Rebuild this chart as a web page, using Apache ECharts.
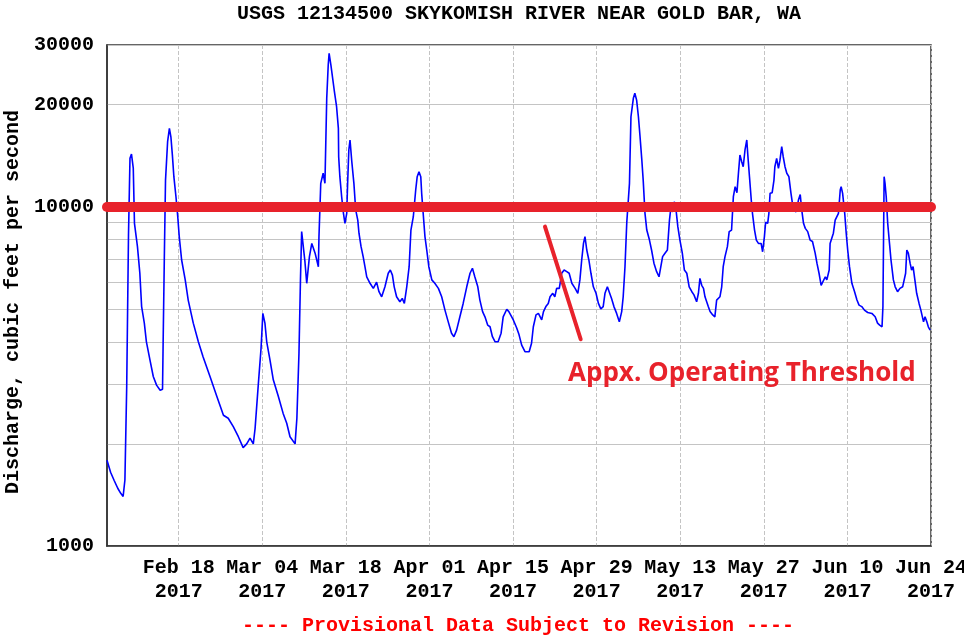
<!DOCTYPE html>
<html><head><meta charset="utf-8">
<script src="https://cdn.jsdelivr.net/npm/echarts@6/dist/echarts.min.js"></script>
<style>html,body{margin:0;padding:0;background:#fff}#c{width:964px;height:635px}</style>
</head><body><div id="c"></div>
<script>
const titleText = 'USGS 12134500 SKYKOMISH RIVER NEAR GOLD BAR, WA';
const yAxisName = 'Discharge, cubic feet per second';
const footerText = '---- Provisional Data Subject to Revision ----';
const annotationText = 'Appx. Operating Threshold';

// x = days since 2017-02-06 00:00
const xMin = 0, xMax = 138;
const xTickDays = [12, 26, 40, 54, 68, 82, 96, 110, 124, 138];
const xTickLabels = ['Feb 18\n2017', 'Mar 04\n2017', 'Mar 18\n2017', 'Apr 01\n2017', 'Apr 15\n2017',
  'Apr 29\n2017', 'May 13\n2017', 'May 27\n2017', 'Jun 10\n2017', 'Jun 24\n2017'];
const yLabelValues = [1000, 10000, 20000, 30000];
const yGridValues = [1000, 2000, 3000, 4000, 5000, 6000, 7000, 8000, 9000, 10000, 20000, 30000];

const thresholdValue = 10000;
const thresholdSpan = [0, 138];
const pointerStart = [73.35, 8740];
const pointerEnd = [79.33, 4070];

const dayOffset = [0,0.6,1.2,1.8,2.3,2.7,3.0,3.3,3.6,3.85,4.1,4.4,4.6,5.1,5.5,5.8,6.25,6.6,7.2,7.75,8.3,8.9,9.3,9.4,9.6,9.8,
10.15,10.45,10.7,10.95,11.2,11.55,11.85,12.1,12.5,13.1,13.6,14.45,15.3,16.1,17.25,18.4,19.5,20.3,21.15,22.0,22.8,23.4,23.95,24.5,24.8,
25.35,25.8,26.1,26.25,26.45,26.75,27.3,27.85,28.7,29.5,30.1,30.65,31.5,31.8,32.15,32.4,32.6,32.9,33.15,33.45,33.9,34.3,34.85,35.4,35.5,
35.8,36.2,36.5,36.8,37.05,37.2,37.5,37.75,38.05,38.45,38.75,38.8,39.0,39.3,39.6,39.85,40.15,40.3,40.5,40.7,41.0,41.35,41.65,42.0,42.2,
42.55,42.9,43.2,43.5,44.05,44.6,45.15,45.55,46.0,46.55,47.1,47.45,47.8,48.1,48.5,49.05,49.45,49.8,50.2,50.6,50.9,51.3,51.7,51.95,52.25,
52.55,52.7,52.95,53.25,53.55,53.9,54.4,54.9,55.5,56.05,56.6,57.15,57.7,58.1,58.55,59.1,59.65,60.25,60.8,61.2,61.6,62.1,62.45,62.9,63.3,
63.75,64.15,64.55,65.0,65.5,66.0,66.35,66.95,67.3,68.05,68.6,69.0,69.45,70.0,70.7,71.1,71.4,71.85,72.25,72.8,73.1,73.5,73.9,74.2,74.65,
75.0,75.3,75.75,76.15,76.55,77.0,77.4,77.85,78.4,78.85,79.2,79.5,79.8,80.05,80.35,80.7,81.05,81.45,81.9,82.3,82.7,83.1,83.4,83.8,84.1,
84.5,84.9,85.35,85.8,86.2,86.45,86.75,87.05,87.5,87.75,88.15,88.4,88.7,89.0,89.25,89.55,89.8,90.1,90.4,90.85,91.2,91.6,92.05,92.45,92.75,
93.05,93.45,93.85,94.2,94.45,94.75,95.0,95.3,95.6,95.95,96.35,96.7,97.1,97.5,97.95,98.3,98.75,99.05,99.3,99.6,99.9,100.15,100.45,100.7,
101.0,101.45,101.8,102.1,102.65,102.95,103.2,103.5,103.9,104.2,104.6,104.9,105.2,105.5,105.75,106.0,106.3,106.55,106.85,107.15,107.3,
107.6,107.9,108.1,108.45,108.75,109.1,109.55,109.8,110.1,110.3,110.65,110.85,111.05,111.4,111.7,111.85,112.15,112.45,112.7,113.0,113.25,
113.55,113.85,114.2,114.55,114.95,115.4,115.8,116.1,116.35,116.65,116.95,117.35,117.75,118.15,118.6,118.9,119.25,119.6,119.9,120.3,
120.55,120.95,121.1,121.4,121.65,121.95,122.25,122.5,122.8,122.95,123.2,123.55,123.8,124.05,124.35,124.75,125.2,125.6,125.95,126.4,
126.85,127.4,128.1,128.65,129.05,129.4,129.8,129.95,130.05,130.15,130.3,130.5,130.75,131.05,131.3,131.7,132.0,132.4,132.8,133.25,133.5,
133.75,133.95,134.2,134.5,134.75,135.0,135.3,135.6,136.0,136.3,136.75,137.0,137.3,137.55,137.85];

const discharge = [1790,1650,1560,1480,1430,1400,1565,2950,8260,13900,14300,13000,8940,7630,6370,5080,4540,4000,3530,3160,2980,2880,2900,3960,7050,11990,
15560,17030,16090,14210,12270,10710,9350,8170,6970,6090,5310,4540,4000,3610,3160,2760,2430,2380,2250,2100,1950,2000,2080,2000,2220,
3010,3830,4850,4900,4540,4000,3530,3090,2760,2460,2300,2100,2000,2380,3700,6090,8450,8540,6890,5950,7130,7800,7300,6660,8170,
11730,12560,11730,20890,26180,28350,26180,25900,22100,19730,17030,14050,12270,10710,9570,8940,9570,11730,14710,15740,13580,11730,9790,9140,8360,
7630,7130,6660,6220,5950,5750,6000,5620,5430,5810,6370,6510,6290,5810,5430,5250,5370,5190,5810,6660,8540,9350,11210,12270,12690,
12270,10960,9570,8170,7460,6660,6090,5950,5750,5430,4960,4580,4240,4140,4330,4740,5190,5810,6370,6590,6220,5810,5310,4910,4740,
4480,4430,4140,4000,4000,4240,4740,4990,4910,4640,4400,4200,3910,3740,3740,3960,4430,4800,4850,4640,4910,5080,5190,5430,5560,
5430,5750,5750,6370,6510,6440,6370,5950,5750,5560,6090,6970,7800,8170,7460,6970,6370,5810,5560,5190,5000,5080,5560,5810,5750,
5370,5080,4850,4580,4910,5430,6660,9000,11730,18430,20890,21610,20640,18430,16280,13900,11990,9570,8540,7980,7460,6820,6440,6220,6150,
7130,7300,7460,9140,10000,9660,10350,9790,8740,7980,7300,6510,6370,5810,5620,5500,5250,5560,6150,5870,5750,5430,5370,5080,
4910,4800,4740,5310,5430,5810,6660,7130,7630,8450,8540,10710,11460,11010,12560,14210,13580,13130,14710,15740,14380,
12270,10470,9570,8540,7980,7800,7800,7370,8170,9000,8940,9570,10960,11010,11990,13130,13900,12990,13700,15040,14050,
13130,12560,12270,10960,9790,9660,10470,10870,9790,8940,8640,8450,7980,7900,7300,6820,6370,5870,5810,6220,
6090,6510,7800,7900,8360,9140,9260,9570,11210,11460,10960,9570,8360,7460,6660,5950,5620,5310,5130,5080,
4960,4880,4850,4740,4540,4480,4430,5080,7980,12270,11730,10710,8940,7800,6970,6090,5810,5620,5750,5810,5870,
6370,7460,7300,6820,6510,6660,6090,5560,5190,4960,4580,4740,4580,4430,4330];

const seriesData = dayOffset.map((d, i) => [d, discharge[i]]);

const monoFont = 'Liberation Mono';
const red = '#e8222b';

const chart = echarts.init(document.getElementById('c'), null, {renderer: 'canvas'});
chart.setOption({
  animation: false,
  backgroundColor: '#ffffff',
  title: [
    {text: titleText, left: 514, top: -1, textAlign: 'center',
     textStyle: {fontFamily: monoFont, fontWeight: 'bold', fontSize: 20, color: '#000'}},
    {text: footerText, left: 513, top: 611, textAlign: 'center',
     textStyle: {fontFamily: monoFont, fontWeight: 'bold', fontSize: 20, color: '#ff0000'}}
  ],
  grid: {left: 107, right: 33, top: 45, bottom: 89, show: true, borderColor: '#333', borderWidth: 1.5,
         backgroundColor: 'transparent', containLabel: false, outerBoundsMode: 'none'},
  xAxis: {
    type: 'value', min: xMin, max: xMax,
    axisLine: {show: true, lineStyle: {color: '#333', width: 1.5}},
    axisTick: {show: false, customValues: xTickDays},
    axisLabel: {customValues: xTickDays, margin: 10, color: '#000', fontFamily: monoFont, fontWeight: 'bold', fontSize: 20, lineHeight: 24,
      formatter: v => { const i = xTickDays.indexOf(Math.round(v)); return i >= 0 ? xTickLabels[i] : ''; }},
    splitLine: {show: true, lineStyle: {color: '#c4c4c4', width: 1, type: [4, 2]}}
  },
  yAxis: {
    type: 'log', logBase: 10, min: 1000, max: 30000,
    axisLine: {show: true, lineStyle: {color: '#333', width: 1.5}},
    axisTick: {show: false, customValues: yGridValues},
    axisLabel: {customValues: yLabelValues, margin: 13, color: '#000', fontFamily: monoFont, fontWeight: 'bold', fontSize: 20,
      formatter: v => String(Math.round(v))},
    splitLine: {show: true, lineStyle: {color: '#c4c4c4', width: 1}}
  },
  series: [{
    type: 'line', data: seriesData, showSymbol: false, clip: false,
    lineStyle: {color: '#0000ff', width: 1.6}, silent: true,
    markLine: {
      silent: true, symbol: 'none', animation: false,
      label: {show: false},
      data: [
        [{coord: [thresholdSpan[0], thresholdValue], lineStyle: {color: red, width: 10, type: 'solid', cap: 'round'}},
         {coord: [thresholdSpan[1], thresholdValue]}],
        [{coord: pointerStart, lineStyle: {color: red, width: 4, type: 'solid', cap: 'round'}},
         {coord: pointerEnd}]
      ]
    }
  }],
  graphic: [
    {type: 'text', x: 13, y: 302, rotation: Math.PI / 2, z: 100,
     style: {text: yAxisName, font: 'bold 20px "Liberation Mono"', fill: '#000', align: 'center', verticalAlign: 'middle'}},
    {type: 'text', left: 568, top: 361, z: 100,
     style: {text: annotationText, font: 'bold 26px "Open Sans"', fill: red}}
  ]
});
</script></body></html>
